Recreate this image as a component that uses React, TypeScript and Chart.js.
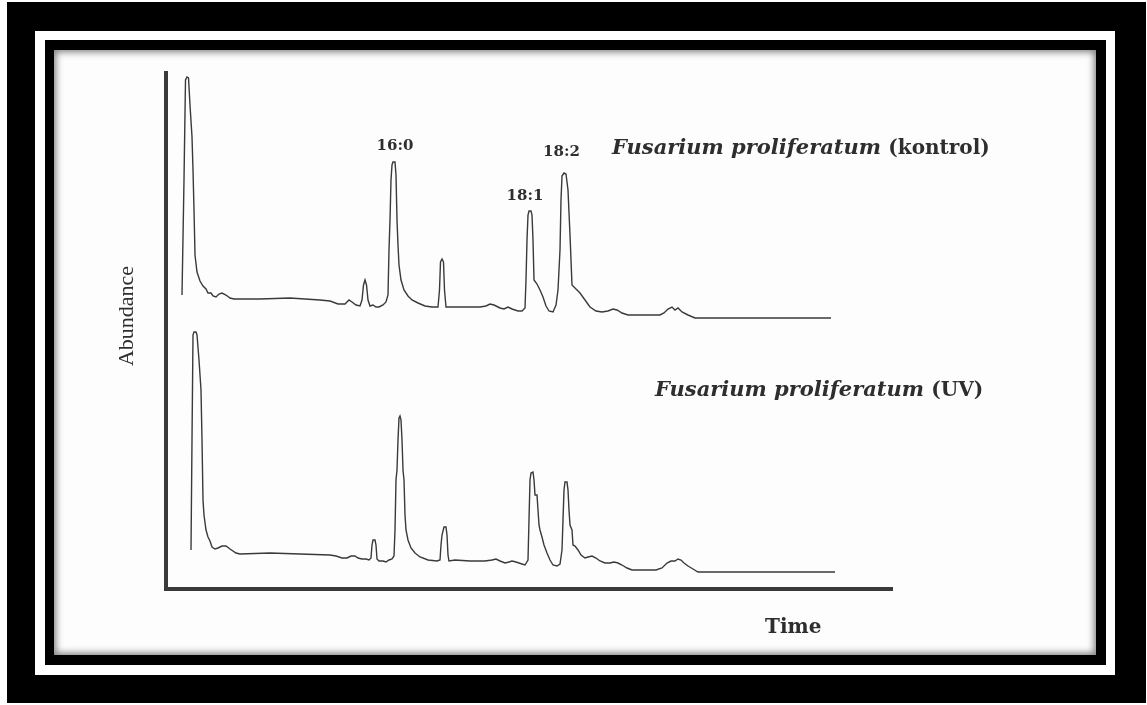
import React, { useEffect, useRef } from "react";
import { Chart, registerables } from "chart.js";

Chart.register(...registerables);

// ---- Data (time in arbitrary units, abundance in arbitrary units) ----
const kontrolTime = [
  1.6, 1.8, 1.95, 2.1, 2.25, 2.4, 2.6, 2.7, 2.8, 2.9, 3.1, 3.4, 3.7, 4.0, 4.2, 4.5, 4.7, 5.0, 5.3, 5.6,
  6.0, 6.4, 6.8, 9.4, 12.4, 15.4, 16.4, 17.2, 17.9, 18.3, 18.6, 19.0, 19.4, 19.6, 19.75, 19.9, 20.05, 20.2, 20.4, 20.7,
  21.0, 21.3, 21.7, 22.0, 22.2, 22.3, 22.4, 22.5, 22.6, 22.7, 22.9, 23.0, 23.1, 23.2, 23.3, 23.5, 23.8, 24.2, 24.6, 25.2,
  25.9, 26.6, 27.2, 27.35, 27.45, 27.6, 27.75, 27.85, 28.0, 28.9, 30.4, 31.4, 32.0, 32.4, 32.8, 33.4, 33.8, 34.2, 34.6, 35.2,
  35.6, 35.9, 36.0, 36.1, 36.2, 36.3, 36.5, 36.6, 36.7, 36.8, 37.1, 37.4, 37.7, 38.0, 38.3, 38.7, 39.0, 39.2, 39.4, 39.5,
  39.6, 39.8, 40.0, 40.2, 40.4, 40.6, 40.9, 41.4, 41.9, 42.4, 43.0, 43.6, 44.2, 44.7, 45.1, 45.6, 46.2, 47.9, 49.4, 49.8,
  50.2, 50.6, 50.9, 51.2, 51.6, 52.2, 52.9, 55.4, 59.4, 63.4, 66.5,
];
const kontrolAbundance = [
  29.4, 40.9, 50.9, 51.2, 51.1, 48.4, 45.2, 41.9, 37.9, 33.4, 31.7, 30.8, 30.3, 30.0, 29.6, 29.6, 29.3, 29.2, 29.5, 29.6,
  29.4, 29.1, 29.0, 29.0, 29.1, 28.9, 28.8, 28.5, 28.5, 28.9, 28.7, 28.4, 28.3, 28.9, 30.4, 30.9, 30.4, 28.9, 28.3, 28.4,
  28.2, 28.2, 28.4, 28.7, 29.4, 33.9, 36.9, 40.9, 42.4, 42.7, 42.7, 41.4, 36.9, 34.4, 32.4, 30.9, 29.9, 29.3, 28.9, 28.6,
  28.3, 28.2, 28.2, 29.9, 32.7, 33.0, 32.7, 29.9, 28.2, 28.2, 28.2, 28.2, 28.3, 28.5, 28.4, 28.1, 28.0, 28.2, 28.0, 27.8,
  27.8, 28.1, 30.9, 34.9, 37.4, 37.8, 37.8, 37.4, 34.9, 30.9, 30.5, 29.9, 29.2, 28.3, 27.8, 27.7, 28.4, 29.9, 33.9, 38.9,
  41.3, 41.6, 41.5, 39.9, 35.4, 30.4, 30.1, 29.6, 28.9, 28.2, 27.8, 27.7, 27.8, 28.0, 27.9, 27.6, 27.4, 27.4, 27.4, 27.6,
  28.0, 28.2, 27.9, 28.1, 27.7, 27.4, 27.1, 27.1, 27.1, 27.1, 27.1,
];

const uvTime = [
  2.5, 2.6, 2.7, 2.8, 3.0, 3.1, 3.3, 3.5, 3.6, 3.7, 3.8, 4.0, 4.2, 4.4, 4.6, 4.9, 5.2, 5.6, 6.0, 6.4,
  7.0, 7.4, 10.4, 13.4, 16.4, 17.0, 17.6, 18.1, 18.5, 18.9, 19.2, 19.6, 20.0, 20.3, 20.5, 20.6, 20.7, 20.9, 21.0, 21.1,
  21.3, 21.7, 22.0, 22.3, 22.6, 22.8, 22.9, 23.0, 23.1, 23.2, 23.3, 23.4, 23.5, 23.6, 23.7, 23.8, 23.9, 24.0, 24.2, 24.5,
  24.9, 25.4, 26.2, 27.1, 27.4, 27.5, 27.6, 27.8, 28.0, 28.1, 28.2, 28.3, 28.9, 30.4, 31.9, 32.6, 33.0, 33.4, 33.9, 34.3,
  34.6, 35.0, 35.6, 35.9, 36.2, 36.3, 36.4, 36.5, 36.7, 36.8, 36.9, 37.1, 37.2, 37.3, 37.4, 37.6, 37.8, 38.1, 38.4, 38.7,
  39.1, 39.4, 39.6, 39.7, 39.8, 39.9, 40.1, 40.2, 40.3, 40.4, 40.6, 40.7, 40.9, 41.2, 41.5, 41.9, 42.2, 42.6, 43.0, 43.4,
  43.9, 44.4, 44.8, 45.2, 45.6, 46.1, 46.6, 47.9, 49.0, 49.6, 50.1, 50.5, 50.9, 51.2, 51.5, 51.8, 52.2, 52.7, 53.2, 55.4,
  60.4, 66.9,
];
const uvAbundance = [
  3.9, 14.9, 25.4, 25.7, 25.7, 25.4, 22.9, 19.9, 14.9, 8.9, 7.4, 5.9, 5.2, 4.8, 4.2, 4.0, 4.1, 4.3, 4.3, 4.0,
  3.6, 3.5, 3.6, 3.5, 3.4, 3.3, 3.1, 3.1, 3.3, 3.3, 3.1, 3.0, 3.0, 2.9, 3.1, 4.4, 4.9, 4.9, 4.4, 3.0,
  2.8, 2.8, 2.7, 2.9, 3.0, 3.3, 5.9, 10.9, 11.9, 14.9, 17.1, 17.3, 16.9, 14.9, 11.9, 10.9, 7.4, 5.9, 4.9, 4.1,
  3.6, 3.2, 2.9, 2.8, 2.9, 4.4, 5.4, 6.2, 6.2, 5.4, 3.4, 2.8, 2.9, 2.8, 2.8, 2.9, 3.0, 2.8, 2.6, 2.7,
  2.8, 2.7, 2.5, 2.4, 2.9, 6.9, 10.9, 11.6, 11.7, 10.9, 9.4, 9.4, 7.9, 6.4, 5.9, 5.2, 4.4, 3.6, 2.9, 2.4,
  2.3, 2.5, 3.9, 6.9, 9.9, 10.7, 10.7, 9.9, 7.9, 6.4, 5.9, 4.4, 4.3, 3.9, 3.4, 3.1, 3.2, 3.3, 3.1, 2.8,
  2.6, 2.6, 2.7, 2.6, 2.4, 2.1, 1.9, 1.9, 1.9, 2.1, 2.6, 2.8, 2.8, 3.0, 2.9, 2.6, 2.3, 2.0, 1.7, 1.7,
  1.7, 1.7,
];

const peakLabels = ["16:0", "18:1", "18:2"];
const peakLabelTime = [22.9, 35.9, 39.55];
const peakLabelAbundance = [44.25, 39.3, 43.7];

const seriesNames = ["Fusarium proliferatum", "Fusarium proliferatum"];
const seriesTags = ["(kontrol)", "(UV)"];
const seriesLabelTime = [44.6, 48.9];
const seriesLabelAbundance = [44.0, 19.8];

const xTitle = "Time";
const yTitle = "Abundance";

const timeRange = [0, 72.6];
const abundanceRange = [0, 51.6];

const INK = "#2e2e2e";
const LINE = "#3a3a3a";
const AXIS = "#3a3a3a";

const textPlugin = {
  id: "chromLabels",
  afterDraw(chart: any) {
    const { ctx, chartArea, scales } = chart;
    const xs = scales.x;
    const ys = scales.y;
    ctx.save();
    ctx.fillStyle = INK;

    // peak labels
    ctx.font = "bold 15px 'DejaVu Serif'";
    ctx.textAlign = "center";
    ctx.textBaseline = "middle";
    peakLabels.forEach((lbl, i) => {
      ctx.fillText(lbl, xs.getPixelForValue(peakLabelTime[i]), ys.getPixelForValue(peakLabelAbundance[i]));
    });

    // series labels
    ctx.textAlign = "left";
    seriesNames.forEach((name, i) => {
      const x0 = xs.getPixelForValue(seriesLabelTime[i]);
      const y0 = ys.getPixelForValue(seriesLabelAbundance[i]);
      ctx.font = "italic bold 21px 'DejaVu Serif'";
      ctx.fillText(name + " ", x0, y0);
      const w = ctx.measureText(name + " ").width;
      ctx.font = "bold 20px 'DejaVu Serif'";
      ctx.fillText(seriesTags[i], x0 + w, y0);
    });

    // x title
    ctx.font = "bold 20px 'DejaVu Serif'";
    ctx.textAlign = "left";
    ctx.textBaseline = "alphabetic";
    ctx.fillText(xTitle, chartArea.right - 127, chartArea.bottom + 44);

    // y title
    ctx.font = "22px 'Liberation Serif'";
    ctx.translate(chartArea.left - 39, 316);
    ctx.rotate(-Math.PI / 2);
    ctx.textAlign = "center";
    ctx.textBaseline = "middle";
    ctx.fillText(yTitle, 0, 0);
    ctx.restore();
  },
};

export default function App() {
  const ref = useRef<HTMLCanvasElement>(null);

  useEffect(() => {
    if (!ref.current) return;
    const chart = new Chart(ref.current, {
      type: "line",
      data: {
        datasets: [
          {
            label: "kontrol",
            data: kontrolTime.map((t, i) => ({ x: t, y: kontrolAbundance[i] })),
            borderColor: LINE,
            borderWidth: 1.4,
            pointRadius: 0,
            tension: 0,
            fill: false,
          },
          {
            label: "UV",
            data: uvTime.map((t, i) => ({ x: t, y: uvAbundance[i] })),
            borderColor: LINE,
            borderWidth: 1.4,
            pointRadius: 0,
            tension: 0,
            fill: false,
          },
        ],
      },
      options: {
        responsive: false,
        animation: false,
        events: [],
        layout: { autoPadding: false, padding: { left: 166, top: 73, right: 255, bottom: 116 } },
        plugins: { legend: { display: false }, tooltip: { enabled: false }, title: { display: false } },
        scales: {
          x: {
            type: "linear",
            min: timeRange[0],
            max: timeRange[1],
            grid: { display: false, drawTicks: false },
            ticks: { display: false },
            border: { display: true, color: AXIS, width: 4 },
          },
          y: {
            type: "linear",
            min: abundanceRange[0],
            max: abundanceRange[1],
            grid: { display: false, drawTicks: false },
            ticks: { display: false },
            border: { display: true, color: AXIS, width: 4 },
          },
        },
      },
      plugins: [textPlugin],
    } as any);
    return () => chart.destroy();
  }, []);

  const abs = (l: number, t: number, w: number, h: number, bg: string, extra: any = {}) => ({
    position: "absolute" as const,
    left: l,
    top: t,
    width: w,
    height: h,
    background: bg,
    ...extra,
  });

  return (
    <div style={{ position: "fixed", left: 0, top: 0, width: 1147, height: 705, background: "#ffffff", overflow: "hidden" }}>
      <div style={abs(7, 2, 1139, 701, "#000")} />
      <div style={abs(35, 31, 1080, 644, "#fff")} />
      <div style={abs(45, 40, 1061, 625, "#000")} />
      <div style={abs(54, 50, 1042, 605, "#fdfdfd", { boxShadow: "inset 0 0 7px 2px rgba(0,0,0,0.5)" })} />
      <canvas
        ref={ref}
        width={1147}
        height={705}
        style={{ position: "absolute", left: 0, top: 0, width: 1147, height: 705 }}
      />
    </div>
  );
}
